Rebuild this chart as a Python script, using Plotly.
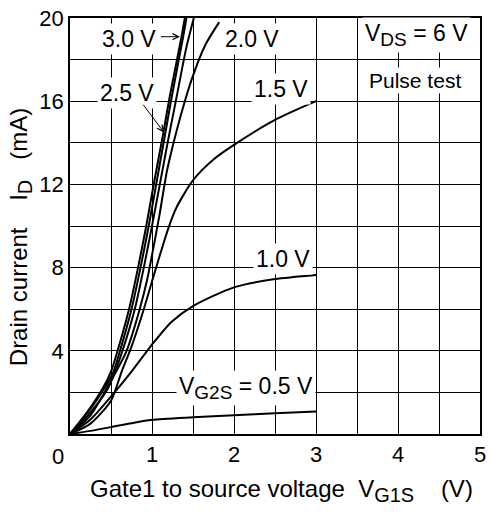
import plotly.graph_objects as go

# ---- data ----
vg1s_30 = [0, 0.2, 0.40, 0.5, 0.58, 0.72, 0.83, 0.93, 1.03, 1.13, 1.22, 1.36, 1.40]
id_30 = [0, 1.0, 2.2, 3.0, 4.0, 6.0, 8.0, 10.0, 12.2, 14.3, 16.3, 19.1, 20.0]

vg1s_25 = [0, 0.21, 0.42, 0.53, 0.61, 0.75, 0.86, 0.96, 1.06, 1.155, 1.245, 1.38, 1.42]
id_25 = [0, 1.0, 2.2, 3.0, 4.0, 6.0, 8.0, 10.0, 12.2, 14.3, 16.3, 19.1, 20.0]

vg1s_2x = [0, 0.22, 0.45, 0.55, 0.64, 0.79, 0.90, 1.00, 1.10, 1.20, 1.30, 1.42, 1.51]
id_2x = [0, 0.9, 2.1, 3.0, 4.0, 6.0, 8.0, 10.0, 12.1, 14.2, 16.2, 18.6, 20.0]

vg1s_20 = [0, 0.25, 0.52, 0.69, 0.85, 0.94, 1.0, 1.09, 1.18, 1.25, 1.35, 1.48, 1.65, 1.82]
id_20 = [0, 0.9, 2.7, 4.0, 6.0, 7.4, 8.6, 10.5, 12.6, 13.8, 15.3, 17.0, 18.7, 19.8]

vg1s_15 = [0, 0.25, 0.5, 0.63, 0.75, 0.9, 1.05, 1.2, 1.3, 1.5, 1.75, 2.0, 2.5, 3.0]
id_15 = [0, 0.5, 1.6, 3.0, 4.2, 6.0, 8.0, 9.9, 10.9, 12.2, 13.2, 13.9, 15.1, 16.0]

vg1s_10 = [0, 0.25, 0.5, 0.75, 1.0, 1.24, 1.5, 2.0, 2.5, 3.0]
id_10 = [0, 0.7, 1.8, 3.0, 4.3, 5.4, 6.15, 7.05, 7.45, 7.65]

vg1s_05 = [0, 0.25, 0.5, 0.75, 1.0, 1.5, 2.0, 2.5, 3.0]
id_05 = [0, 0.15, 0.33, 0.52, 0.68, 0.8, 0.9, 1.0, 1.08]

x_ticks = [1, 2, 3, 4, 5]
y_ticks = [4, 8, 12, 16, 20]

series = [
    ("3.0 V", vg1s_30, id_30),
    ("2.5 V", vg1s_25, id_25),
    ("", vg1s_2x, id_2x),
    ("2.0 V", vg1s_20, id_20),
    ("1.5 V", vg1s_15, id_15),
    ("1.0 V", vg1s_10, id_10),
    ("0.5 V", vg1s_05, id_05),
]

FONT = "Liberation Sans, Arial, sans-serif"


def sub(s, size=19):
    return "<sub><span style='font-size:%dpx'>%s</span></sub>" % (size, s)


fig = go.Figure()
for name, xs, ys in series:
    fig.add_trace(go.Scatter(
        x=xs, y=ys, mode="lines", name=name,
        line=dict(color="black", width=2, shape="spline", smoothing=0.7),
        showlegend=False, hoverinfo="skip",
    ))

lbl = dict(showarrow=False, font=dict(family=FONT, size=23, color="black"),
           bgcolor="white", borderpad=2, xref="x", yref="y")

annotations = [
    dict(text="3.0 V", x=0.72, y=19.0, **lbl),
    dict(text="2.5 V", x=0.70, y=16.4, **lbl),
    dict(text="2.0 V", x=2.22, y=19.0, **lbl),
    dict(text="1.5 V", x=2.575, y=16.6, **lbl),
    dict(text="1.0 V", x=2.6, y=8.4, **lbl),
    dict(text="V" + sub("G2S") + " = 0.5 V", x=2.15, y=2.2, **lbl),
    dict(text="V" + sub("DS") + " = 6 V", x=4.23, y=19.2, **lbl),
    dict(text="Pulse test", x=4.21, y=17.0,
         showarrow=False, font=dict(family=FONT, size=21, color="black"),
         bgcolor="white", borderpad=1, xref="x", yref="y"),
    # arrows
    dict(text="", x=1.34, y=19.1, ax=1.09, ay=19.1, axref="x", ayref="y",
         xref="x", yref="y", showarrow=True, arrowhead=5, arrowsize=1.2,
         arrowwidth=1, arrowcolor="black"),
    dict(text="", x=1.146, y=14.5, ax=0.88, ay=15.9, axref="x", ayref="y",
         xref="x", yref="y", showarrow=True, arrowhead=5, arrowsize=1.2,
         arrowwidth=1, arrowcolor="black"),
    # corner zero
    dict(text="0", x=-0.03, y=-0.053, xref="paper", yref="paper", showarrow=False,
         xanchor="center", yanchor="middle",
         font=dict(family=FONT, size=22, color="black")),
    # axis titles
    dict(text="Gate1 to source voltage\u00a0\u00a0V" + sub("G1S", 20) + "\u00a0\u00a0\u00a0\u00a0(V)",
         x=0.515, y=-0.135, xref="paper", yref="paper", showarrow=False,
         xanchor="center", yanchor="middle",
         font=dict(family=FONT, size=24, color="black")),
    dict(text="Drain current\u00a0\u00a0\u00a0\u00a0I" + sub("D", 20) + "\u00a0\u00a0\u00a0(mA)",
         x=-0.12, y=0.475, xref="paper", yref="paper", showarrow=False,
         textangle=-90, xanchor="center", yanchor="middle",
         font=dict(family=FONT, size=24, color="black")),
]

fig.update_layout(
    width=492, height=512,
    margin=dict(l=70, r=6, t=18, b=78),
    paper_bgcolor="white", plot_bgcolor="white",
    font=dict(family=FONT, size=22, color="black"),
    annotations=annotations,
)
fig.update_xaxes(
    range=[0, 5], tickvals=x_ticks, ticktext=[str(v) for v in x_ticks],
    showgrid=True, gridcolor="black", gridwidth=1,
    minor=dict(dtick=0.5, tick0=0, showgrid=True, gridcolor="black", gridwidth=1),
    showline=True, linecolor="black", linewidth=1.5, mirror=True,
    ticks="", zeroline=False, tickfont=dict(family=FONT, size=22, color="black"),
)
fig.update_yaxes(
    range=[0, 20], tickvals=y_ticks, ticktext=[str(v) for v in y_ticks],
    showgrid=True, gridcolor="black", gridwidth=1,
    minor=dict(dtick=2, tick0=0, showgrid=True, gridcolor="black", gridwidth=1),
    showline=True, linecolor="black", linewidth=1.5, mirror=True,
    ticks="", zeroline=False, tickfont=dict(family=FONT, size=22, color="black"),
)

fig.write_html("out.html")
